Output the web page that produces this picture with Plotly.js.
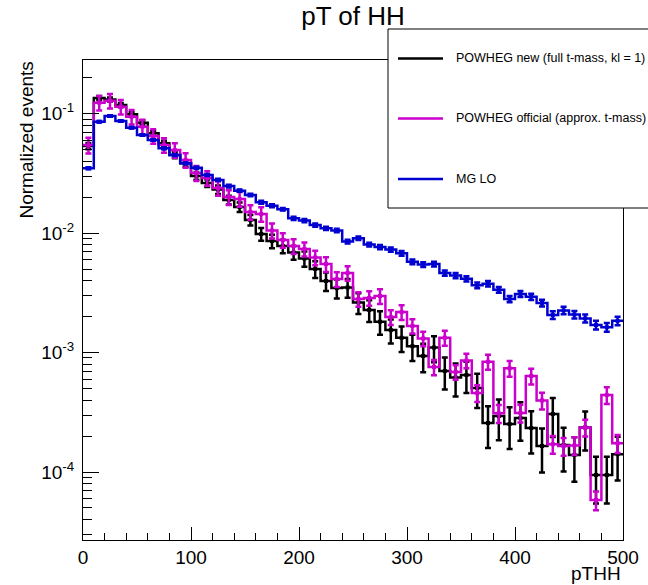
<!DOCTYPE html>
<html>
<head>
<meta charset="utf-8">
<script src="https://cdn.plot.ly/plotly-3.0.1.min.js"></script>
<style>html,body{margin:0;padding:0;background:#fff;}#chart{width:648px;height:585px;}</style>
</head>
<body>
<div id="chart"></div>
<script>
// ---- data ----
const binEdges = [0,10,20,30,40,50,60,70,80,90,100,110,120,130,140,150,160,170,180,190,200,210,220,230,240,250,260,270,280,290,300,310,320,330,340,350,360,370,380,390,400,410,420,430,440,450,460,470,480,490,500];
const binCenters = [5,15,25,35,45,55,65,75,85,95,105,115,125,135,145,155,165,175,185,195,205,215,225,235,245,255,265,275,285,295,305,315,325,335,345,355,365,375,385,395,405,415,425,435,445,455,465,475,485,495];

const seriesNames = ["POWHEG new (full t-mass, kl = 1)", "POWHEG official (approx. t-mass)", "MG LO"];

const powhegNew = [0.0535,0.1348,0.1310,0.1178,0.0985,0.0838,0.0683,0.0563,0.0449,0.0383,
  0.0300,0.0262,0.0231,0.0189,0.0165,0.01284,0.00981,0.00857,0.00778,0.00687,
  0.00612,0.00500,0.00397,0.00346,0.00350,0.00262,0.00227,0.00181,0.00154,0.00133,
  0.00113,0.000935,0.00110,0.000700,0.000618,0.000648,0.000504,0.000257,0.000294,0.000252,
  0.000283,0.000233,0.000165,0.000306,0.000168,0.000139,0.000236,0.0000944,0.0000944,0.000141];
const powhegNewErr = [0.0032,0.0054,0.0052,0.0047,0.0041,0.0040,0.0035,0.0030,0.0027,0.0024,
  0.0021,0.0019,0.0019,0.0016,0.0015,0.0013,0.0012,0.0011,0.0010,0.0009,
  0.0009,0.0008,0.0007,0.00063,0.00063,0.00052,0.00047,0.00040,0.00035,0.00032,
  0.00028,0.00025,0.00027,0.00021,0.00019,0.00019,0.00016,0.000098,0.00011,0.000096,
  0.00010,0.00009,0.000066,0.00011,0.000067,0.000056,0.000085,0.00004,0.00004,0.000056];

const powhegOfficial = [0.0545,0.1231,0.1280,0.1140,0.0940,0.0775,0.0648,0.0545,0.0495,0.0408,
  0.0318,0.0289,0.0238,0.0200,0.0193,0.0150,0.0144,0.01049,0.00874,0.00778,
  0.00735,0.00624,0.00550,0.00412,0.00463,0.00280,0.00286,0.00297,0.00198,0.00218,
  0.00167,0.00131,0.000756,0.00133,0.000687,0.000857,0.000458,0.000837,0.000310,0.000738,
  0.000312,0.000636,0.000397,0.000171,0.000165,0.000167,0.000236,0.0000583,0.000441,0.000174];
const powhegOfficialErr = [0.0082,0.017,0.018,0.016,0.013,0.011,0.009,0.0076,0.0069,0.0057,
  0.0045,0.0040,0.0033,0.0028,0.0027,0.0021,0.0020,0.0015,0.0012,0.0011,
  0.0010,0.00087,0.00077,0.00058,0.00065,0.00039,0.00040,0.00042,0.00028,0.00031,
  0.00023,0.00018,0.00011,0.00019,0.000096,0.00012,0.000073,0.00012,0.000053,0.00011,
  0.000053,0.000095,0.000064,0.000029,0.000028,0.000028,0.000038,0.0000105,0.000071,0.00003];

const mgLO = [0.0348,0.0854,0.0953,0.0866,0.0761,0.0661,0.0600,0.0511,0.0449,0.0383,
  0.0351,0.0306,0.0278,0.0247,0.0226,0.0208,0.0181,0.0169,0.0158,0.01327,
  0.01272,0.01166,0.01095,0.01049,0.00849,0.00903,0.00801,0.00763,0.00728,0.00676,
  0.00575,0.00545,0.00550,0.00463,0.00441,0.00414,0.00365,0.00376,0.00335,0.00280,
  0.00309,0.00293,0.00260,0.00206,0.00225,0.00208,0.00193,0.00170,0.00163,0.00184];
const mgLOErr = [0.0007,0.0012,0.0013,0.0012,0.0011,0.0010,0.0009,0.0008,0.0008,0.0007,
  0.0007,0.0006,0.0006,0.0006,0.0005,0.0005,0.0005,0.0005,0.0004,0.0004,
  0.0004,0.00035,0.00035,0.00035,0.0003,0.0003,0.0003,0.0003,0.0003,0.0003,
  0.00026,0.00025,0.00025,0.00023,0.00022,0.00021,0.0002,0.0002,0.00019,0.00017,
  0.00018,0.00018,0.00017,0.00015,0.00016,0.00015,0.00015,0.00014,0.00014,0.00015];

const xTickVals = [0,100,200,300,400,500];
const yTickVals = [1e-4,1e-3,1e-2,1e-1];
const yTickText = ["10<sup>-4</sup>","10<sup>-3</sup>","10<sup>-2</sup>","10<sup>-1</sup>"];

// ---- styling ----
const FONT = "Liberation Sans, Arimo, Helvetica, Arial, sans-serif";
const colors = ["#000000", "#cc00cc", "#0000d0"];
const seriesVals = [powhegNew, powhegOfficial, mgLO];
const seriesErrs = [powhegNewErr, powhegOfficialErr, mgLOErr];

const yMinor = [];
[-5,-4,-3,-2,-1].forEach(function(e){
  for (let m = 2; m <= 9; m++) yMinor.push(m * Math.pow(10, e));
});

const traces = [];
seriesVals.forEach(function(vals, i){
  traces.push({
    x: binEdges,
    y: vals.concat([vals[vals.length - 1]]),
    mode: "lines",
    line: {shape: "hv", color: colors[i], width: 2.5},
    showlegend: false,
    hoverinfo: "skip"
  });
  traces.push({
    x: binCenters,
    y: vals,
    mode: "markers",
    marker: {symbol: "square", size: 4, color: colors[i]},
    error_y: {type: "data", array: seriesErrs[i], visible: true, color: colors[i], thickness: 2.5, width: 3},
    showlegend: false,
    hoverinfo: "skip"
  });
});

// manual ROOT-style legend
const px = function(p){ return (p - 83) / 540; };
const py = function(p){ return (540 - p) / 480; };
const legendY = [58.5, 118.5, 179];
const shapes = [{
  type: "rect", xref: "paper", yref: "paper",
  x0: px(388), x1: px(652), y0: py(208), y1: py(29),
  line: {color: "#000", width: 1}, fillcolor: "#ffffff", layer: "above"
}];
const annotations = [];
seriesNames.forEach(function(n, i){
  shapes.push({type: "line", xref: "paper", yref: "paper",
    x0: px(398), x1: px(443), y0: py(legendY[i]), y1: py(legendY[i]),
    line: {color: colors[i], width: 2.5}, layer: "above"});
  annotations.push({xref: "paper", yref: "paper", x: px(454), y: py(legendY[i]),
    xanchor: "left", yanchor: "middle", showarrow: false, text: n,
    font: {family: FONT, size: 12.5, color: "#000"}});
});
annotations.push({xref: "paper", yref: "paper", x: px(26), y: 1.0, xanchor: "center", yanchor: "top",
  textangle: -90, showarrow: false, text: "Normalized events",
  font: {family: FONT, size: 19, color: "#000"}});
annotations.push({xref: "paper", yref: "paper", x: 1.0, y: py(573), xanchor: "right", yanchor: "middle",
  showarrow: false, text: "pTHH", font: {family: FONT, size: 19, color: "#000"}});

const layout = {
  width: 648, height: 585,
  margin: {l: 83, r: 25, t: 60, b: 45, pad: 0},
  paper_bgcolor: "#ffffff", plot_bgcolor: "#ffffff",
  font: {family: FONT, size: 19, color: "#000"},
  title: {text: "pT of HH", font: {family: FONT, size: 26, color: "#000"},
          xref: "paper", x: 0.5, xanchor: "center", yref: "container", y: 1 - 16/585, yanchor: "middle"},
  showlegend: false,
  xaxis: {
    range: [0, 500], tickmode: "array", tickvals: xTickVals, ticks: "inside", ticklen: 13, tickwidth: 1,
    tickcolor: "#000", showgrid: false, zeroline: false, showline: true, linecolor: "#000", linewidth: 1,
    mirror: true, tickfont: {family: FONT, size: 19},
    minor: {dtick: 20, ticks: "inside", ticklen: 7, tickwidth: 1, tickcolor: "#000", showgrid: false}
  },
  yaxis: {
    type: "log", range: [-4.569, -0.552], tickmode: "array", tickvals: yTickVals, ticktext: yTickText,
    ticks: "inside", ticklen: 16, tickwidth: 1, tickcolor: "#000", showgrid: false, zeroline: false,
    showline: true, linecolor: "#000", linewidth: 1, mirror: true, ticklabelstandoff: 4,
    tickfont: {family: FONT, size: 19},
    minor: {tickmode: "array", tickvals: yMinor, ticks: "inside", ticklen: 9, tickwidth: 1, tickcolor: "#000", showgrid: false}
  },
  shapes: shapes,
  annotations: annotations
};

Plotly.newPlot("chart", traces, layout, {displayModeBar: false, staticPlot: true});
</script>
</body>
</html>
